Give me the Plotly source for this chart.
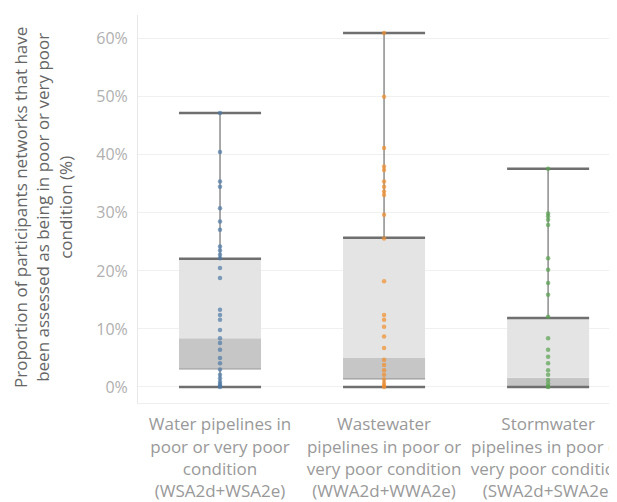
"""Box plot of pipeline condition by network type (Tableau-style two-tone boxes)."""

import plotly.graph_objects as go

# ---- data -------------------------------------------------------------
categories = [
    "Water pipelines in<br>poor or very poor<br>condition<br>(WSA2d+WSA2e)",
    "Wastewater<br>pipelines in poor or<br>very poor condition<br>(WWA2d+WWA2e)",
    "Stormwater<br>pipelines in poor or<br>very poor condition<br>(SWA2d+SWA2e)",
]

water_pts = [47.2, 40.5, 35.4, 34.5, 30.8, 28.5, 27.1, 24.2, 23.5, 22.8, 22.2,
             20.5, 18.8, 13.3, 12.4, 11.6, 9.8, 8.4, 7.6, 6.4, 5.0, 4.1, 3.0,
             2.1, 1.5, 0.9, 0.5, 0.2, 0.0]
waste_pts = [61.0, 50.0, 41.2, 38.0, 37.4, 35.4, 34.5, 33.7, 33.1, 29.7, 25.6,
             18.2, 12.4, 11.6, 10.4, 8.7, 6.7, 4.7, 3.8, 2.9, 2.1, 1.3, 0.7,
             0.2, 0.0]
storm_pts = [37.6, 29.9, 29.4, 28.8, 27.9, 22.2, 20.2, 17.9, 15.9, 12.1, 8.4,
             6.4, 5.2, 4.1, 2.9, 2.1, 1.2, 0.6, 0.1, 0.0]

lower = [0.0, 0.0, 0.0]
q1 = [3.1, 1.4, 0.0]
median = [8.4, 5.0, 1.6]
q3 = [22.1, 25.7, 11.9]
upper = [47.2, 61.0, 37.6]

y_ticks = [0, 10, 20, 30, 40, 50, 60]

point_colors = ["#4e79a7", "#f28e2b", "#59a14f"]
points = [water_pts, waste_pts, storm_pts]

# ---- figure -----------------------------------------------------------
BOX_W = 0.5
xs = list(range(len(categories)))

fig = go.Figure()

# lower (dark) half of the box: q1 -> median
fig.add_trace(go.Bar(
    x=xs, y=[m - a for m, a in zip(median, q1)], base=q1, width=BOX_W,
    marker=dict(color="#c6c6c6", line=dict(width=0)), hoverinfo="skip",
))
# upper (light) half of the box: median -> q3
fig.add_trace(go.Bar(
    x=xs, y=[b - m for b, m in zip(q3, median)], base=median, width=BOX_W,
    marker=dict(color="#e4e4e4", line=dict(width=0)), hoverinfo="skip",
))

# whiskers
wx, wy = [], []
for i in xs:
    wx += [i, i, None, i, i, None]
    wy += [q3[i], upper[i], None, lower[i], q1[i], None]
fig.add_trace(go.Scatter(x=wx, y=wy, mode="lines",
                         line=dict(color="#8c8c8c", width=1.5), hoverinfo="skip"))

# q1 edge
ex, ey = [], []
for i in xs:
    ex += [i - BOX_W / 2, i + BOX_W / 2, None]
    ey += [q1[i], q1[i], None]
fig.add_trace(go.Scatter(x=ex, y=ey, mode="lines",
                         line=dict(color="#9a9a9a", width=1.2), hoverinfo="skip"))

# caps and q3 edge
cx, cy = [], []
for i in xs:
    for v in (upper[i], q3[i], lower[i]):
        cx += [i - BOX_W / 2, i + BOX_W / 2, None]
        cy += [v, v, None]
fig.add_trace(go.Scatter(x=cx, y=cy, mode="lines",
                         line=dict(color="#6f6f6f", width=2.5), hoverinfo="skip"))

# data points
for i, pts in enumerate(points):
    fig.add_trace(go.Scatter(
        x=[i] * len(pts), y=pts, mode="markers",
        marker=dict(color=point_colors[i], size=4.5, opacity=0.7, line=dict(width=0)),
        hovertemplate="%{y:.1f}%<extra></extra>",
    ))

# page body has an 8px margin, so the figure is a bit smaller than the window
fig.update_layout(
    width=609,
    height=494,
    margin=dict(l=130, r=0, t=7, b=99),
    plot_bgcolor="white",
    paper_bgcolor="white",
    showlegend=False,
    barmode="overlay",
    font=dict(family="Open Sans, sans-serif", color="#888"),
    annotations=[dict(
        text="Proportion of participants networks that have<br>"
             "been assessed as being in poor or very poor<br>condition (%)",
        textangle=-90,
        xref="paper", yref="paper",
        x=-0.198, y=0.503,
        xanchor="center", yanchor="middle",
        showarrow=False,
        font=dict(size=17, color="#666"),
    )],
)
fig.update_xaxes(
    range=[-0.5, 2.42],
    tickvals=xs,
    ticktext=categories,
    tickfont=dict(size=17, color="#999"),
    ticklabelstandoff=6,
    ticklabeloverflow="allow",
    showgrid=False,
    showline=True,
    linecolor="#eeeeee",
    ticks="",
    zeroline=False,
    automargin=False,
)
fig.update_yaxes(
    range=[-2.76, 64.1],
    tickvals=y_ticks,
    ticktext=[f"{v}%" for v in y_ticks],
    tickfont=dict(size=16, color="#b0b0b0"),
    ticklabelstandoff=6,
    showgrid=True,
    gridcolor="#f0f0f0",
    showline=True,
    linecolor="#e8e8e8",
    zeroline=False,
    ticks="",
    automargin=False,
)

fig.write_html("out.html")
